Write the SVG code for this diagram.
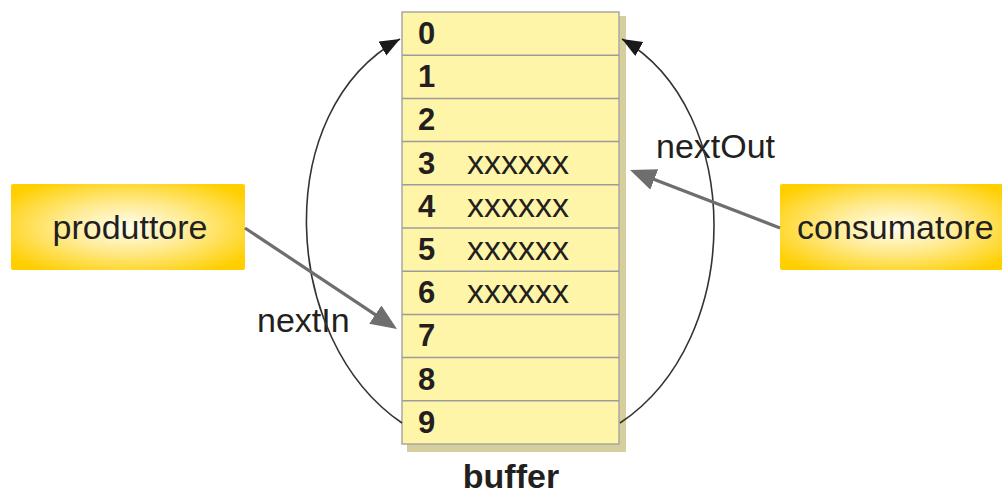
<svg xmlns="http://www.w3.org/2000/svg" width="1002" height="495" viewBox="0 0 1002 495">
<defs>
<radialGradient id="gold" cx="0.5" cy="0.5" r="0.62">
<stop offset="0" stop-color="#FFFDF0"/>
<stop offset="0.45" stop-color="#FFEB92"/>
<stop offset="1" stop-color="#FFCF00"/>
</radialGradient>
<marker id="gh" markerUnits="userSpaceOnUse" markerWidth="28" markerHeight="24" refX="18" refY="11" orient="auto">
<path d="M0,0 L26,11 L0,22 Z" fill="#6E6E6E"/>
</marker>
<marker id="bh" markerUnits="userSpaceOnUse" markerWidth="22" markerHeight="18" refX="20" refY="8" orient="auto">
<path d="M0,0 L20,8 L0,16 Z" fill="#1A1A1A"/>
</marker>
</defs>
<style>
.lbl{font-family:"Liberation Sans",Arial,sans-serif;font-size:34px;fill:#231F20}
.num{font-family:"Liberation Sans",Arial,sans-serif;font-size:31px;font-weight:bold;fill:#231F20}
.xx{font-family:"Liberation Sans",Arial,sans-serif;font-size:34px;fill:#231F20}
.div{stroke:#9C9C9C;stroke-width:1.5}
.arc{fill:none;stroke:#333;stroke-width:1.6;marker-end:url(#bh)}
.ptr{fill:none;stroke:#6E6E6E;stroke-width:3.2;marker-end:url(#gh)}
.box{fill:url(#gold)}
</style>

<g id="buffer">
<rect x="407" y="16" width="219" height="436" fill="#D6CE9C"/>
<rect x="402" y="12" width="217" height="432" fill="#FFF5A8" stroke="#A8A8A0" stroke-width="1.5"/>
<line class="div" x1="402" y1="55.2" x2="619" y2="55.2"/>
<line class="div" x1="402" y1="98.4" x2="619" y2="98.4"/>
<line class="div" x1="402" y1="141.6" x2="619" y2="141.6"/>
<line class="div" x1="402" y1="184.8" x2="619" y2="184.8"/>
<line class="div" x1="402" y1="228" x2="619" y2="228"/>
<line class="div" x1="402" y1="271.2" x2="619" y2="271.2"/>
<line class="div" x1="402" y1="314.4" x2="619" y2="314.4"/>
<line class="div" x1="402" y1="357.6" x2="619" y2="357.6"/>
<line class="div" x1="402" y1="400.8" x2="619" y2="400.8"/>
<text class="num" x="418" y="44">0</text>
<text class="num" x="418" y="87.2">1</text>
<text class="num" x="418" y="130.4">2</text>
<text class="num" x="418" y="173.6">3</text>
<text class="num" x="418" y="216.8">4</text>
<text class="num" x="418" y="260">5</text>
<text class="num" x="418" y="303.2">6</text>
<text class="num" x="418" y="346.4">7</text>
<text class="num" x="418" y="389.6">8</text>
<text class="num" x="418" y="432.8">9</text>
<text class="xx" x="467" y="173.6">xxxxxx</text>
<text class="xx" x="467" y="216.8">xxxxxx</text>
<text class="xx" x="467" y="260">xxxxxx</text>
<text class="xx" x="467" y="303.2">xxxxxx</text>
<text class="lbl" x="511" y="488" text-anchor="middle" font-weight="bold" font-size="33">buffer</text>
</g>

<g id="produttore">
<rect class="box" x="11" y="184" width="234" height="86" rx="2"/>
<text class="lbl" x="130" y="239" text-anchor="middle">produttore</text>
</g>

<g id="consumatore">
<rect class="box" x="780" y="184" width="230" height="86" rx="2"/>
<text class="lbl" x="797" y="239">consumatore</text>
</g>

<g id="labels">
<text class="lbl" x="257" y="332">nextIn</text>
<text class="lbl" x="656" y="158">nextOut</text>
</g>

<g id="connectors">
<path class="arc" d="M402,423 C280,340 270,110 400,39"/>
<path class="arc" d="M620,423 C745,340 745,110 622,39"/>
<line class="ptr" x1="245" y1="228" x2="390.3" y2="324.6"/>
<line class="ptr" x1="780" y1="228" x2="637.5" y2="172.9"/>
</g>
</svg>
